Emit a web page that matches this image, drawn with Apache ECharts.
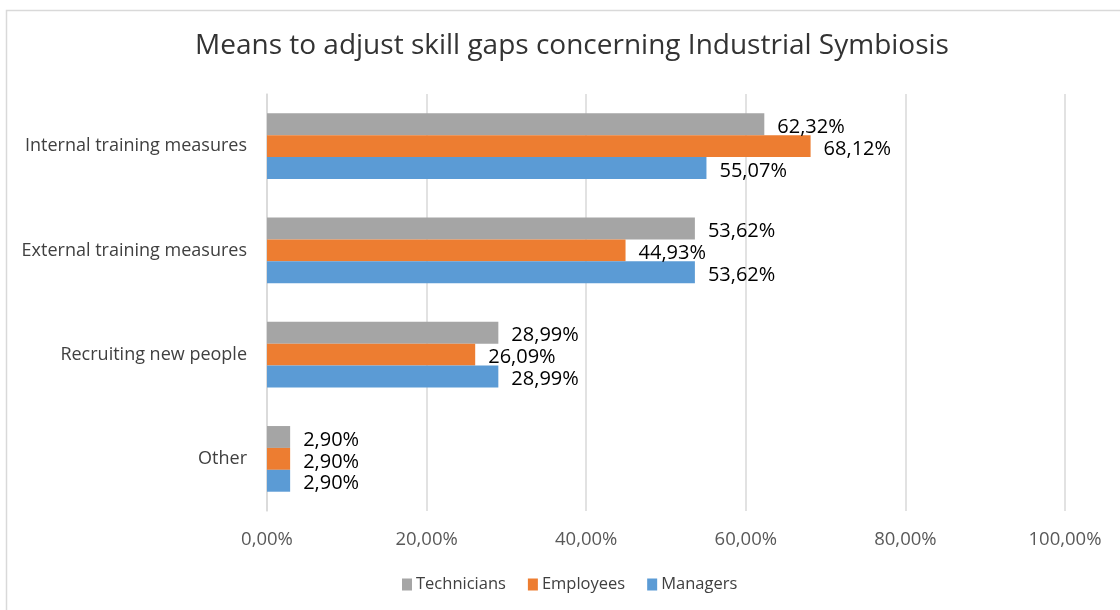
<!DOCTYPE html>
<html>
<head>
<meta charset="utf-8">
<script src="https://cdn.jsdelivr.net/npm/echarts@6/dist/echarts.min.js"></script>
<style>
html,body{margin:0;padding:0;background:#fff;}
#chart{width:1120px;height:610px;}
</style>
</head>
<body>
<div id="chart"></div>
<script>
const categories = ["Internal training measures", "External training measures", "Recruiting new people", "Other"];
const technicians = [62.32, 53.62, 28.99, 2.90];
const employees = [68.12, 44.93, 26.09, 2.90];
const managers = [55.07, 53.62, 28.99, 2.90];
const xTicks = [0, 20, 40, 60, 80, 100];

const fmt = v => v.toFixed(2).replace('.', ',') + '%';
const FONT = '"Open Sans", "Noto Sans", sans-serif';

const chart = echarts.init(document.getElementById('chart'));
function mk(name, data, color) {
  return {
    name: name, type: 'bar', data: data,
    itemStyle: { color: color },
    barCategoryGap: '37%', barGap: '0%',
    label: { show: true, position: 'right', distance: 13, offset: [0, 3], color: '#000', fontSize: 20, fontFamily: FONT,
      formatter: p => fmt(p.value) }
  };
}
chart.setOption({
  animation: false,
  textStyle: { fontFamily: FONT },
  title: {
    text: 'Means to adjust skill gaps concerning Industrial Symbiosis',
    left: 190, top: 27,
    textStyle: { fontSize: 28, fontWeight: 'normal', color: '#333', fontFamily: FONT }
  },
  legend: {
    top: 571, left: 397, itemWidth: 10, itemHeight: 12, itemGap: 22,
    icon: 'rect',
    data: ['Technicians', 'Employees', 'Managers'],
    textStyle: { fontSize: 16.5, color: '#404040', fontFamily: FONT, padding: [0, 0, 0, -1] }
  },
  grid: { left: 267, right: 55, top: 94, bottom: 99, containLabel: false },
  xAxis: {
    type: 'value', min: xTicks[0], max: xTicks[xTicks.length - 1], interval: 20,
    axisLine: { show: false }, axisTick: { show: false },
    splitLine: { lineStyle: { color: '#d9d9d9', width: 1.5 } },
    axisLabel: { fontSize: 18.5, color: '#595959', margin: 19, fontFamily: FONT, formatter: v => fmt(v) }
  },
  yAxis: {
    type: 'category', data: categories, inverse: true,
    axisLine: { show: true, lineStyle: { color: '#d9d9d9', width: 1.5 } },
    axisTick: { show: false },
    axisLabel: { fontSize: 18, color: '#404040', margin: 20, fontFamily: FONT }
  },
  series: [
    mk('Technicians', technicians, '#a5a5a5'),
    mk('Employees', employees, '#ed7d31'),
    mk('Managers', managers, '#5b9bd5')
  ],
  graphic: [{
    type: 'rect', silent: true, z: -1,
    shape: { x: 6.5, y: 10.5, width: 1130, height: 620 },
    style: { fill: 'none', stroke: '#d9d9d9', lineWidth: 1.5 }
  }]
});
</script>
</body>
</html>
